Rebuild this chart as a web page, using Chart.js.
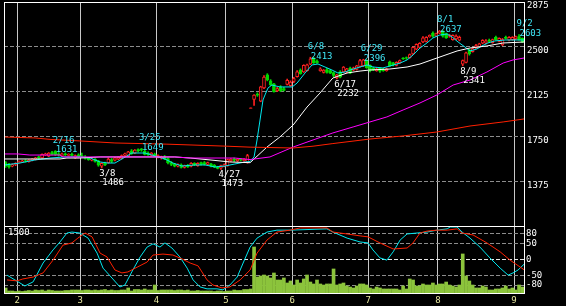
<!DOCTYPE html>
<html>
<head>
<meta charset="utf-8">
<script src="https://cdn.jsdelivr.net/npm/chart.js@4"></script>
<style>
  html, body { margin: 0; padding: 0; background: #000; }
  #wrap { position: relative; width: 566px; height: 306px; overflow: hidden; background: #000; }
  canvas { position: absolute; left: 0; }
  #price { top: 0; }
  #osc { top: 226px; }
</style>
</head>
<body>
<div id="wrap">
  <canvas id="price" width="566" height="227"></canvas>
  <canvas id="osc" width="566" height="80"></canvas>
</div>
<script>
// daily candles, index 0 = last days of January, index 156 = early September
const open = [1530,1515,1500,1515,1530,1535,1548,1538,1548,1558,1580,1570,1595,1585,1615,1625,1605,1585,1605,1590,
  1600,1570,1595,1590,1580,1570,1550,1560,1545,1500,1525,1530,1555,1550,1560,1565,1590,1585,1630,1610,
  1640,1645,1625,1610,1590,1600,1575,1570,1580,1565,1530,1520,1500,1512,1490,1510,1500,1525,1505,1530,
  1530,1515,1520,1510,1495,1485,1500,1505,1545,1560,1545,1560,1545,1530,1985,2060,2105,2045,2155,2265,
  2215,2190,2130,2165,2150,2185,2175,2210,2250,2305,2290,2300,2355,2405,2380,2300,2285,2310,2300,2285,
  2240,2290,2290,2290,2320,2305,2310,2335,2340,2385,2345,2320,2300,2320,2310,2300,2375,2365,2345,2365,
  2405,2410,2410,2440,2480,2495,2540,2545,2585,2615,2590,2615,2630,2610,2590,2560,2565,2555,2355,2370,
  2475,2460,2490,2500,2530,2530,2555,2535,2580,2545,2515,2580,2555,2560,2565,2585,2570];
const high = [1540,1525,1520,1530,1545,1550,1555,1555,1565,1575,1585,1605,1610,1615,1625,1631,1615,1610,1612,1605,
  1610,1595,1605,1610,1590,1575,1570,1565,1550,1530,1535,1570,1565,1575,1580,1595,1610,1625,1640,1640,
  1645,1649,1635,1620,1615,1610,1595,1585,1590,1570,1540,1525,1520,1520,1510,1515,1530,1530,1530,1535,
  1540,1535,1525,1515,1500,1510,1520,1560,1565,1570,1565,1565,1565,1600,1990,2100,2115,2170,2260,2275,
  2225,2195,2160,2175,2160,2230,2215,2245,2300,2315,2350,2355,2413,2410,2390,2325,2310,2320,2310,2290,
  2270,2300,2335,2320,2330,2330,2345,2395,2396,2390,2350,2330,2325,2325,2320,2320,2380,2370,2375,2390,
  2410,2415,2440,2500,2525,2535,2585,2585,2600,2625,2615,2637,2635,2615,2605,2600,2600,2590,2390,2455,
  2480,2490,2520,2530,2560,2560,2565,2565,2590,2575,2570,2590,2585,2585,2590,2603,2575];
const low = [1490,1485,1495,1505,1525,1530,1535,1535,1545,1552,1565,1565,1590,1580,1595,1590,1585,1580,1590,1585,
  1585,1565,1575,1575,1560,1550,1545,1535,1500,1486,1505,1525,1530,1545,1555,1560,1585,1580,1600,1605,
  1620,1625,1595,1590,1585,1580,1570,1560,1555,1520,1505,1495,1495,1485,1485,1490,1495,1505,1500,1510,
  1510,1510,1495,1488,1478,1473,1495,1500,1540,1540,1540,1545,1540,1525,1985,2010,2085,2040,2150,2215,
  2175,2120,2125,2125,2130,2180,2170,2200,2245,2270,2285,2295,2350,2360,2360,2295,2280,2280,2275,2250,
  2232,2240,2285,2280,2275,2300,2305,2330,2335,2320,2290,2300,2295,2285,2295,2295,2335,2340,2340,2360,
  2395,2395,2405,2435,2475,2490,2535,2540,2580,2580,2585,2610,2580,2570,2580,2555,2560,2550,2341,2365,
  2430,2455,2485,2495,2525,2525,2535,2530,2555,2540,2510,2565,2550,2555,2560,2555,2535];
const close = [1505,1495,1515,1525,1540,1545,1540,1550,1560,1570,1570,1600,1605,1610,1600,1598,1592,1605,1595,1600,
  1590,1590,1580,1580,1565,1555,1560,1540,1510,1525,1512,1560,1540,1570,1575,1590,1605,1620,1605,1635,
  1630,1635,1600,1595,1610,1585,1590,1580,1560,1530,1515,1500,1515,1490,1505,1495,1525,1510,1525,1515,
  1515,1530,1500,1492,1482,1505,1515,1555,1560,1550,1560,1550,1560,1590,1990,2095,2095,2165,2247,2222,
  2180,2125,2150,2130,2135,2220,2205,2235,2290,2275,2345,2350,2400,2365,2365,2315,2305,2285,2280,2260,
  2265,2245,2330,2315,2280,2325,2340,2385,2390,2325,2300,2305,2315,2295,2300,2315,2340,2350,2370,2385,
  2400,2405,2435,2495,2520,2530,2575,2580,2595,2590,2610,2630,2590,2575,2598,2595,2590,2580,2385,2450,
  2440,2485,2510,2525,2555,2550,2545,2560,2560,2570,2560,2570,2580,2580,2585,2560,2540];
const volume = [112,45,45,34,45,34,45,56,45,67,56,67,45,67,56,45,45,45,56,56,
  67,67,67,56,67,67,56,67,56,67,78,56,67,56,56,67,67,112,45,78,
  78,67,90,67,67,179,56,67,67,67,67,56,67,67,56,67,45,45,56,45,
  45,45,45,34,45,45,34,45,45,67,56,56,78,78,90,1030,358,381,403,381,
  336,448,291,291,336,224,269,179,291,224,314,403,246,202,291,202,179,202,202,538,
  179,202,224,157,134,112,157,202,202,179,112,90,134,112,90,90,90,90,90,67,
  157,90,314,291,157,157,202,179,179,224,179,202,202,246,179,157,134,179,874,381,
  269,179,112,112,157,134,67,67,90,90,112,157,90,112,67,179,134];

// moving averages: [day index, price]
const maShort = [[-0.2,1511],[4.3,1527],[8.9,1553],[13.4,1569],[17.9,1578],[22.4,1578],[25.5,1569],[28.5,1536],
  [30.9,1527],[33,1527],[35.1,1561],[38.1,1611],[42.1,1611],[45.1,1586],[48.1,1561],[50.5,1527],[53.2,1502],
  [57.2,1511],[60.2,1511],[63.2,1494],[66.2,1502],[69.2,1519],[72.3,1536],[73.8,1540],[75,1578],[75.9,1720],
  [76.8,1887],[77.7,2055],[78.3,2097],[79.2,2155],[80.4,2180],[82.8,2164],[86.5,2164],[88,2197],[90.4,2281],
  [92.5,2348],[94.3,2356],[96.4,2331],[98.5,2306],[100.3,2281],[102.5,2289],[104,2306],[107,2331],[109.1,2348],
  [110.9,2331],[113.9,2323],[116,2339],[119.1,2364],[121.2,2390],[123,2431],[125.1,2490],[127.2,2532],[129,2574],
  [131.1,2599],[133.3,2607],[134.8,2582],[136.6,2540],[138.7,2498],[140.2,2465],[142.3,2482],[143.8,2507],
  [145.6,2532],[147.7,2549],[150.8,2557],[153.8,2557],[156.5,2557]];
const maMid = [[-0.5,1561],[16.4,1561],[18.5,1569],[22.4,1569],[28.5,1578],[51.1,1578],[55.7,1569],[61.7,1553],
  [67.7,1536],[73.8,1530],[78.9,1661],[82.8,1745],[86.8,1845],[91,1996],[94.9,2113],[98.8,2239],[103.1,2281],
  [107,2297],[110,2306],[116,2314],[121.2,2331],[125.1,2356],[130.2,2406],[136.3,2465],[140.2,2490],
  [145.3,2507],[150.2,2532],[156.5,2540]];
const maLong = [[-0.5,1603],[3.7,1603],[7.3,1594],[16.4,1594],[17.3,1578],[51.1,1578],[55.7,1569],[69.2,1569],
  [73.8,1556],[79.8,1578],[86.8,1661],[92.8,1720],[98.8,1779],[104.9,1829],[110,1871],[115.1,1913],[120,1971],
  [125.1,2030],[130.2,2097],[135.1,2180],[140.2,2222],[145.3,2289],[150.2,2364],[153.2,2390],[156.5,2406]];
const maYear = [[-0.5,1745],[8.9,1737],[13.4,1725],[22.4,1712],[33,1695],[48.7,1685],[66.8,1668],[73.8,1660],
  [86.8,1653],[92.8,1668],[98.8,1690],[110,1728],[120,1754],[130.2,1787],[140.2,1837],[150.2,1871],[156.5,1896]];

// oscillators in the lower panel: [day index, value]
const oscFast = [[0.4,-49],[2.8,-64],[5.8,-83],[8.3,-70],[11.3,-11],[14.3,30],[16.4,55],[18.5,83],[20,86],
  [22.4,83],[24.9,67],[27.6,20],[29.4,-27],[32.1,-58],[34.5,-86],[36,-80],[38.4,-33],[40.6,8],[42.7,39],
  [44.5,49],[46.6,39],[48.1,52],[50.2,36],[52.6,8],[54.8,-27],[56.6,-64],[58.7,-86],[60.8,-92],[63.8,-92],
  [65.6,-95],[67.7,-80],[69.9,-55],[71.7,-11],[73.8,39],[75.9,67],[78.9,86],[81.9,92],[85.9,92],[97,96],
  [98.8,86],[103.1,67],[107,55],[109.4,52],[110.9,30],[113,5],[115.1,-2],[117,24],[119.1,61],[121.2,80],
  [124.2,83],[127.2,86],[130.2,92],[133.3,96],[134.2,102],[136.3,102],[137.8,86],[140.2,67],[143.2,39],
  [146.2,5],[149.3,-27],[151.7,-49],[153.2,-42],[154.7,-33],[156.5,-15]];
const oscSlow = [[0.4,-64],[3.4,-67],[5.2,-61],[8.3,-55],[11.3,-42],[14.3,-2],[17.3,45],[20,52],[21.8,67],
  [24,83],[26.1,71],[28.5,20],[30.6,8],[33,-33],[35.1,-42],[36.9,-39],[39.7,-24],[42.7,-8],[44.5,14],
  [47.5,17],[50.5,14],[53.2,2],[55.7,-11],[58.1,-20],[60.8,-64],[62.6,-80],[65.3,-89],[67.7,-86],[70.8,-64],
  [73.8,-33],[75.9,20],[78.9,61],[81.9,86],[85.9,92],[88.9,99],[97,99],[98.8,86],[103.1,80],[107,74],
  [109.4,71],[113,52],[117,33],[121.2,36],[123,52],[125.1,83],[127.2,89],[130.2,92],[133.3,92],[136.3,96],
  [137.8,83],[141.1,77],[145.3,52],[149.3,24],[152.3,-2],[156.5,-32]];

const monthStart = [4, 23, 46, 67, 87, 110, 131, 154];
const monthLabels = ['2', '3', '4', '5', '6', '7', '8', '9'];
const priceTicks = [1375, 1750, 2125, 2500, 2875];
const oscTicks = [-80, -50, 0, 50, 80];

// marked highs and lows
const annIdx = [15, 29, 41, 65, 92, 100, 108, 131, 138, 155];
const annDate = ['2/16', '3/8', '3/25', '4/27', '6/8', '6/17', '6/29', '8/1', '8/9', '9/2'];
const annPrice = [1631, 1486, 1649, 1473, 2413, 2232, 2396, 2637, 2341, 2603];
const annKind = ['hi', 'lo', 'hi', 'lo', 'hi', 'lo', 'hi', 'hi', 'lo', 'hi'];

const UP = '#ff2020';
const DOWN = '#00d800';
const FONT = { family: 'DejaVu Sans Mono', size: 9 };

const days = open.map((_, i) => i);
const isUp = (i) => close[i] >= open[i];
const pts = (arr) => arr.map(([x, y]) => ({ x, y }));

const frame = {
  id: 'frame',
  afterDraw(chart) {
    const { ctx, chartArea: a } = chart;
    ctx.save();
    ctx.strokeStyle = '#ffffff';
    ctx.lineWidth = 1;
    ctx.strokeRect(a.left + 0.5, a.top + 0.5, a.right - a.left, a.bottom - a.top);
    ctx.restore();
  }
};

const peaks = {
  id: 'peaks',
  afterDatasetsDraw(chart) {
    const { ctx, scales: { x, y } } = chart;
    ctx.save();
    ctx.font = '9px "DejaVu Sans Mono"';
    ctx.textAlign = 'left';
    ctx.textBaseline = 'alphabetic';
    annIdx.forEach((i, k) => {
      const cx = x.getPixelForValue(i);
      const py = y.getPixelForValue(annPrice[k]);
      if (annKind[k] === 'hi') {
        ctx.fillStyle = '#40e8f8';
        ctx.fillText(annDate[k], cx - 2.5, py - 8);
        ctx.fillText(String(annPrice[k]), cx + 0.5, py + 1.5);
      } else {
        ctx.fillStyle = '#ffffff';
        ctx.fillText(annDate[k], cx - 2.5, py + 8);
        ctx.fillText(String(annPrice[k]), cx + 0.5, py + 17);
      }
    });
    ctx.restore();
  }
};

const volLabel = {
  id: 'volLabel',
  afterDatasetsDraw(chart) {
    const { ctx, chartArea: a } = chart;
    ctx.save();
    ctx.font = '9px "DejaVu Sans Mono"';
    ctx.fillStyle = '#ffffff';
    ctx.textBaseline = 'alphabetic';
    ctx.fillText('1500', a.left + 4, a.top + 9);
    ctx.restore();
  }
};

function maLine(data, color, order) {
  return { type: 'line', data: pts(data), borderColor: color, borderWidth: 1, pointRadius: 0, tension: 0, order };
}

function xAxis(showLabels, height) {
  return {
    type: 'linear', min: -0.5, max: 156.5, offset: false,
    afterBuildTicks: (s) => { s.ticks = monthStart.map((m) => ({ value: m - 0.5 })); },
    afterFit: (s) => { s.height = height; s.paddingLeft = 0; s.paddingRight = 0; },
    ticks: {
      display: showLabels, color: '#e8e8a0', font: FONT, padding: 2, maxRotation: 0, autoSkip: false,
      callback: (v, i) => monthLabels[i]
    },
    grid: { color: '#c8c8c8', lineWidth: 1, drawTicks: false, offset: false },
    border: { display: false }
  };
}

new Chart(document.getElementById('price'), {
  type: 'line',
  data: {
    datasets: [
      maLine(maYear, '#ff2000', 1),
      maLine(maLong, '#ff00ff', 1),
      maLine(maMid, '#ffffff', 1),
      maLine(maShort, '#00e8f0', 1),
      {
        type: 'bar', data: days.map((i) => ({ x: i, y: [open[i], close[i]] })),
        backgroundColor: days.map((i) => (isUp(i) ? '#000000' : DOWN)),
        borderColor: days.map((i) => (isUp(i) ? UP : DOWN)),
        borderWidth: 1, borderSkipped: false, barThickness: 3, grouped: false, order: 3
      },
      {
        type: 'bar', data: days.map((i) => ({ x: i, y: [low[i], high[i]] })),
        backgroundColor: days.map((i) => (isUp(i) ? UP : DOWN)),
        borderWidth: 0, barThickness: 1, grouped: false, order: 4
      }
    ]
  },
  options: {
    responsive: false, animation: false, events: [],
    layout: { padding: { left: 4, top: 2, right: 0, bottom: 1 } },
    plugins: { legend: { display: false }, tooltip: { enabled: false } },
    scales: {
      x: xAxis(false, 0),
      y: {
        position: 'right', min: 1000, max: 2875,
        afterBuildTicks: (s) => { s.ticks = priceTicks.map((v) => ({ value: v })); },
        afterFit: (s) => { s.width = 42; s.paddingTop = 0; s.paddingBottom = 0; },
        ticks: { color: '#ffffff', font: FONT, padding: 3, labelOffset: 4, callback: (v) => String(v) },
        grid: { color: '#8c8c8c', lineWidth: 1, drawTicks: false },
        border: { display: false, dash: [4, 2] }
      }
    }
  },
  plugins: [frame, peaks]
});

new Chart(document.getElementById('osc'), {
  type: 'line',
  data: {
    datasets: [
      { type: 'line', data: pts(oscSlow), borderColor: '#ff2000', borderWidth: 1, pointRadius: 0, tension: 0, yAxisID: 'o', order: 1 },
      { type: 'line', data: pts(oscFast), borderColor: '#00e8f0', borderWidth: 1, pointRadius: 0, tension: 0, yAxisID: 'o', order: 1 },
      {
        type: 'bar', data: days.map((i) => ({ x: i, y: volume[i] })), yAxisID: 'v',
        backgroundColor: '#8cc43c', borderWidth: 0, barThickness: 3, grouped: false, order: 2
      }
    ]
  },
  options: {
    responsive: false, animation: false, events: [],
    layout: { padding: { left: 4, top: 0, right: 0, bottom: 0 } },
    plugins: { legend: { display: false }, tooltip: { enabled: false } },
    scales: {
      x: xAxis(true, 13),
      v: { display: false, min: 0, max: 1500 },
      o: {
        position: 'right', min: -105, max: 105,
        afterBuildTicks: (s) => { s.ticks = oscTicks.map((v) => ({ value: v })); },
        afterFit: (s) => { s.width = 42; s.paddingTop = 0; s.paddingBottom = 0; },
        ticks: { color: '#ffffff', font: FONT, padding: 2, callback: (v) => String(v) },
        grid: {
          color: (c) => (c.tick && c.tick.value === 0 ? '#e8e8e8' : '#8c8c8c'),
          lineWidth: 1, drawTicks: false
        },
        border: { display: false, dash: [4, 2] }
      }
    }
  },
  plugins: [frame, volLabel]
});
</script>
</body>
</html>
